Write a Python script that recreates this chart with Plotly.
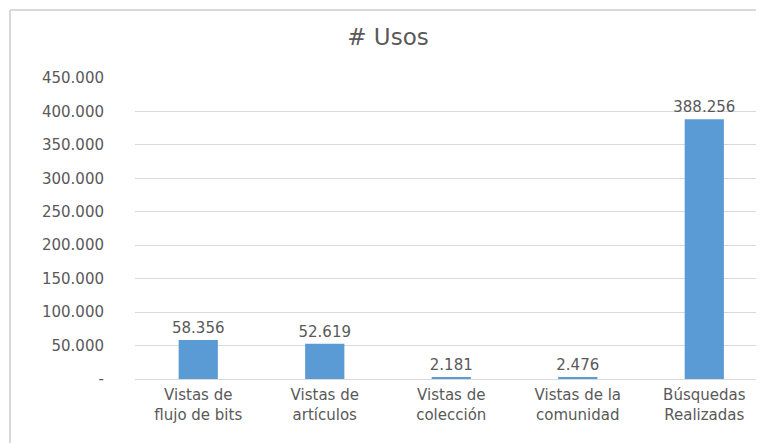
import plotly.graph_objects as go

categories = ["Vistas de<br>flujo de bits", "Vistas de<br>artículos", "Vistas de<br>colección",
              "Vistas de la<br>comunidad", "Búsquedas<br>Realizadas"]
usos = [58356, 52619, 2181, 2476, 388256]
tick_vals = [0, 50000, 100000, 150000, 200000, 250000, 300000, 350000, 400000, 450000]
tick_text = ["-", "50.000", "100.000", "150.000", "200.000", "250.000", "300.000",
             "350.000", "400.000", "450.000"]
title_text = "# Usos"

grey = "#595959"
font_family = "DejaVu Sans, Verdana, sans-serif"

W, H = 756, 435  # page has an 8px body margin
L, T, B = 127, 70, 64
PW, PH = W - L, H - T - B

fig = go.Figure(go.Bar(
    x=list(range(len(categories))),
    y=usos,
    width=0.31,
    marker=dict(color="#5B9BD5", line=dict(width=0)),
    texttemplate="%{y:,}",
    textposition="outside",
    constraintext="none",
    textfont=dict(family=font_family, size=15, color=grey),
    cliponaxis=False,
))

fig.update_layout(
    width=W, height=H,
    separators=",.",
    margin=dict(l=L, r=0, t=T, b=B),
    paper_bgcolor="white", plot_bgcolor="white",
    showlegend=False,
    title=dict(text=title_text, x=(388 - 8) / W, xanchor="center", y=1 - 29 / H, yanchor="middle",
               yref="container", font=dict(family=font_family, size=23, color=grey)),
    xaxis=dict(range=[-0.5, 4.472], tickvals=list(range(len(categories))), ticktext=categories,
               showgrid=False, zeroline=False, showline=False, ticks="",
               tickfont=dict(family=font_family, size=15, color=grey),
               ticklabelstandoff=5, fixedrange=True),
    yaxis=dict(range=[0, 450000], tickvals=tick_vals, ticktext=tick_text,
               showgrid=True, gridcolor="#D9D9D9", gridwidth=1.3,
               zeroline=True, zerolinecolor="#D9D9D9", zerolinewidth=1.3,
               showline=False, ticks="",
               tickfont=dict(family=font_family, size=15, color=grey),
               ticklabelstandoff=30, fixedrange=True),
    shapes=[
        dict(type="line", xref="paper", yref="paper", x0=-(L - 2) / PW, x1=1.02,
             y0=1 + (T - 2) / PH, y1=1 + (T - 2) / PH, line=dict(color="#D9D9D9", width=2)),
        dict(type="line", xref="paper", yref="paper", x0=-(L - 2) / PW, x1=-(L - 2) / PW,
             y0=1 + (T - 2) / PH, y1=-(B + 2) / PH, line=dict(color="#D9D9D9", width=2)),
    ],
)

fig.write_html("out.html")
